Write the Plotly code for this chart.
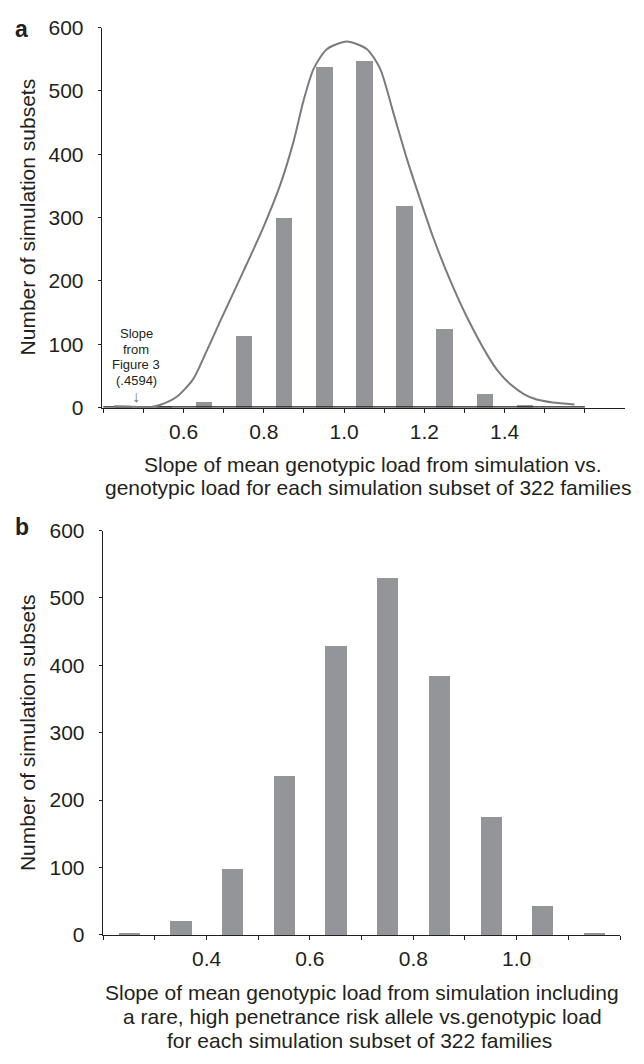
import plotly.graph_objects as go

W, H = 644, 1064
FONT = "Liberation Sans, Arial, Helvetica, sans-serif"
TXT = "#231f20"
BAR = "#939598"
CURVE = "#7b7b7d"

# ---------------- data ----------------
# Panel a
a_bins = [0.45, 0.55, 0.65, 0.75, 0.85, 0.95, 1.05, 1.15, 1.25, 1.35, 1.45]
a_counts = [3, 2, 10, 113, 300, 539, 548, 319, 124, 22, 5]
a_curve_x = [0.427, 0.46, 0.50, 0.52, 0.541, 0.583, 0.624, 0.658, 0.691, 0.749,
             0.799, 0.841, 0.874, 0.899, 0.924, 0.957, 1.007, 1.057, 1.090, 1.123,
             1.157, 1.190, 1.223, 1.265, 1.306, 1.356, 1.383, 1.416, 1.449, 1.478,
             1.52, 1.574]
a_curve_y = [2, 1.5, 0.5, 1, 4, 17, 45, 90, 136, 215,
             285, 352, 420, 485, 535, 566, 578, 566, 535, 465,
             392, 328, 267, 200, 143, 84, 58, 36, 21, 13,
             8, 5]
a_tickvals = [0.4, 0.5, 0.6, 0.7, 0.8, 0.9, 1.0, 1.1, 1.2, 1.3, 1.4, 1.5, 1.6]
a_ticktext = ["", "", "0.6", "", "0.8", "", "1.0", "", "1.2", "", "1.4", "", ""]
a_note = ["Slope", "from", "Figure 3", "(.4594)"]

# Panel b
b_bins = [0.25, 0.35, 0.45, 0.55, 0.65, 0.75, 0.85, 0.95, 1.05, 1.15]
b_counts = [3, 21, 99, 237, 430, 530, 385, 175, 43, 4]
b_tickvals = [0.2, 0.3, 0.4, 0.5, 0.6, 0.7, 0.8, 0.9, 1.0, 1.1, 1.2]
b_ticktext = ["", "", "0.4", "", "0.6", "", "0.8", "", "1.0", "", ""]

y_ticks = [0, 100, 200, 300, 400, 500, 600]
y_title = "Number of simulation subsets"
a_xtitle = ["Slope of mean genotypic load from simulation vs.",
            "genotypic load for each simulation subset of 322 families"]
b_xtitle = ["Slope of mean genotypic load from simulation including",
            "a rare, high penetrance risk allele vs.genotypic load",
            "for each simulation subset of 322 families"]

BIN_W = 0.1
BAR_W = 0.041


def px(x):
    return x / W


def py(y):
    return 1 - y / H


fig = go.Figure()

# panel a bars
fig.add_trace(go.Bar(x=a_bins, y=a_counts, width=BAR_W, marker=dict(color=BAR, line=dict(width=0)),
                     xaxis="x", yaxis="y", showlegend=False))
# panel a baseline of bar categories (bin edges)
fig.add_trace(go.Scatter(x=[a_bins[0] - BIN_W / 2, a_bins[-1] + BIN_W / 2 + BIN_W], y=[0, 0],
                         mode="lines", line=dict(color=TXT, width=2.4),
                         xaxis="x", yaxis="y", showlegend=False, hoverinfo="skip"))
# panel a fitted curve
fig.add_trace(go.Scatter(x=a_curve_x, y=a_curve_y, mode="lines",
                         line=dict(color=CURVE, width=2, shape="spline", smoothing=0.7),
                         xaxis="x", yaxis="y", showlegend=False))

# panel b bars
fig.add_trace(go.Bar(x=b_bins, y=b_counts, width=BAR_W, marker=dict(color=BAR, line=dict(width=0)),
                     xaxis="x2", yaxis="y2", showlegend=False))

axis_common = dict(showgrid=False, zeroline=False, showline=True, linecolor=TXT,
                   ticks="outside", tickcolor=TXT, tickwidth=1,
                   tickfont=dict(family=FONT, size=21, color=TXT))

fig.update_layout(
    width=W, height=H,
    margin=dict(l=0, r=0, t=0, b=0),
    paper_bgcolor="white", plot_bgcolor="white",
    bargap=0,
    xaxis=dict(domain=[px(101.7), px(625)], range=[0.396, 1.70], anchor="y",
               tickmode="array", tickvals=a_tickvals, ticktext=a_ticktext,
               ticklen=4, linewidth=1, ticklabelstandoff=1, **axis_common),
    yaxis=dict(domain=[py(404.3), py(16)], range=[0, 600], anchor="x",
               tickmode="array", tickvals=y_ticks, ticklen=3, linewidth=1,
               ticklabelstandoff=10, **axis_common),
    xaxis2=dict(domain=[px(102.7), px(620)], range=[0.199, 1.2], anchor="y2",
                tickmode="array", tickvals=b_tickvals, ticktext=b_ticktext,
                ticklen=4, linewidth=1.4, ticklabelstandoff=1, **axis_common),
    yaxis2=dict(domain=[py(943.3), py(530)], range=[0, 600], anchor="x2",
                tickmode="array", tickvals=y_ticks, ticklen=3, linewidth=1,
                ticklabelstandoff=10, **axis_common),
)

ann = []


def text(x, y, s, size=21, bold=False, angle=0, color=TXT):
    ann.append(dict(x=px(x), y=py(y), xref="paper", yref="paper", text=("<b>%s</b>" % s) if bold else s,
                    showarrow=False, xanchor="center", yanchor="middle", textangle=angle,
                    font=dict(family=FONT, size=size, color=color)))


# panel letters
text(21.5, 17, "a", size=23, bold=True)
text(22, 526, "b", size=23, bold=True)
# y titles
text(27, 210, y_title, angle=-90)
text(27, 737, y_title, angle=-90)
# x titles
a_centers = [373, 368]
for i, line in enumerate(a_xtitle):
    text(a_centers[i], 462 + 24.5 * i, line)
b_centers = [362, 362, 359]
for i, line in enumerate(b_xtitle):
    text(b_centers[i], 1002 + 24.5 * i, line)
# note in panel a
for i, line in enumerate(a_note):
    text(136, 328.5 + 16 * i, line, size=13)
text(136, 393, "↓", size=16, color="#6d6e71")

fig.update_layout(annotations=ann)
fig.write_html("out.html", config={"displayModeBar": False},
               post_script="document.body.style.margin='0';document.body.style.padding='0';")
